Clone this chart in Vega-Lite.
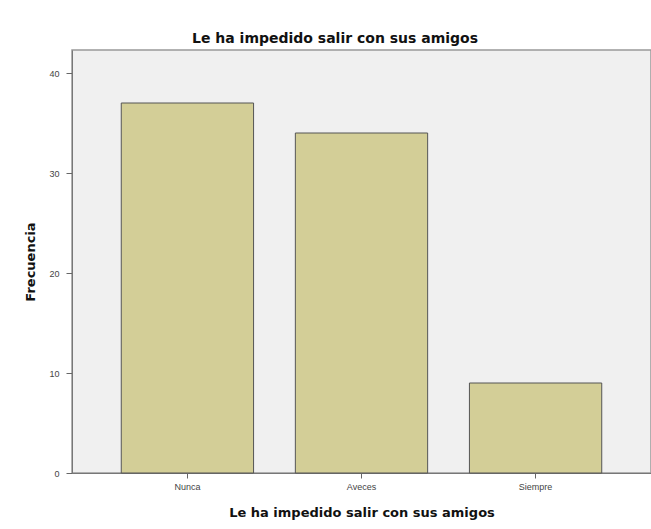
{
  "$schema": "https://vega.github.io/schema/vega-lite/v6.json",
  "width": 579,
  "height": 423,
  "autosize": "none",
  "padding": {"left": 72, "top": 50, "right": 0, "bottom": 56},
  "background": "white",
  "title": {
    "text": "Le ha impedido salir con sus amigos",
    "anchor": "start",
    "frame": "group",
    "dx": 120,
    "offset": 4,
    "font": "DejaVu Sans",
    "fontSize": 14,
    "fontWeight": "bold",
    "color": "#111"
  },
  "data": {
    "values": [
      {"categoria": "Nunca", "frecuencia": 37},
      {"categoria": "Aveces", "frecuencia": 34},
      {"categoria": "Siempre", "frecuencia": 9}
    ]
  },
  "mark": {"type": "bar", "fill": "#D3CE97", "stroke": "#555", "strokeWidth": 1},
  "encoding": {
    "x": {
      "field": "categoria",
      "type": "nominal",
      "sort": ["Nunca", "Aveces", "Siempre"],
      "scale": {"paddingInner": 0.24, "paddingOuter": 0.283},
      "axis": {
        "title": "Le ha impedido salir con sus amigos",
        "titleFont": "DejaVu Sans",
        "titleFontSize": 13,
        "titleFontWeight": "bold",
        "titleColor": "#111",
        "titlePadding": 15,
        "labelAngle": 0,
        "labelFont": "Liberation Sans",
        "labelFontSize": 9,
        "labelColor": "#444",
        "labelPadding": 4,
        "tickSize": 5,
        "tickColor": "#666",
        "domainColor": "#777",
        "grid": false
      }
    },
    "y": {
      "field": "frecuencia",
      "type": "quantitative",
      "scale": {"domain": [0, 42.3], "nice": false},
      "axis": {
        "title": "Frecuencia",
        "values": [0, 10, 20, 30, 40],
        "titleFont": "DejaVu Sans",
        "titleFontSize": 13,
        "titleFontWeight": "bold",
        "titleColor": "#111",
        "titlePadding": 11,
        "labelFont": "Liberation Sans",
        "labelFontSize": 9,
        "labelColor": "#444",
        "labelPadding": 7,
        "tickSize": 6,
        "tickColor": "#666",
        "domainColor": "#777",
        "grid": false
      }
    }
  },
  "config": {
    "view": {"fill": "#F0F0F0", "stroke": "#999", "strokeWidth": 1.5}
  }
}
